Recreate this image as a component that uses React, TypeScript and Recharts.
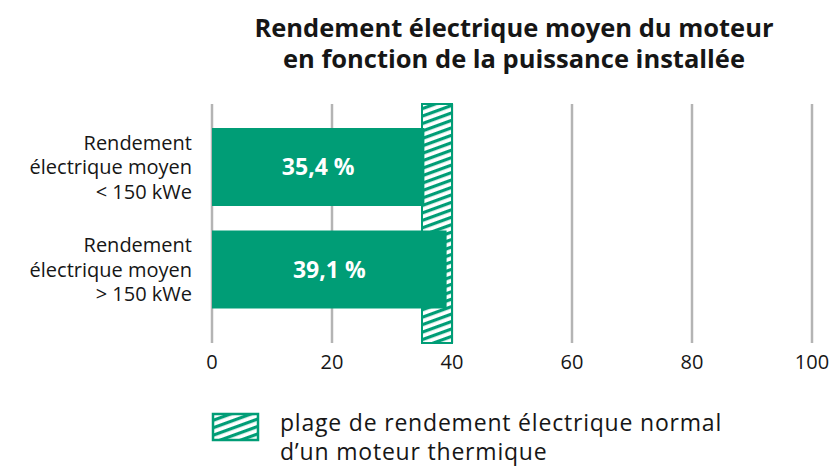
import React from 'react';
import { BarChart, Bar, XAxis, YAxis, CartesianGrid, ReferenceArea, LabelList } from 'recharts';

// categories (y-axis labels, one line per entry)
const categories: string[][] = [
  ['Rendement', 'électrique moyen', '< 150 kWe'],
  ['Rendement', 'électrique moyen', '> 150 kWe'],
];
const rendement: number[] = [35.4, 39.1];
const plageNormale: number[] = [35, 40];
const xTicks: number[] = [0, 20, 40, 60, 80, 100];

const titre = ['Rendement électrique moyen du moteur', 'en fonction de la puissance installée'];
const legende = ['plage de rendement électrique normal', 'd\u2019un moteur thermique'];

const GREEN = '#009d76';
const TEXT = '#161616';
const FONT = '"Open Sans", sans-serif';

// category padding inside the plot (hatched range spans the whole plot height)
const PAD_TOP = 12;
const PAD_BOTTOM = 22;

const data = categories.map((c, i) => ({ name: String(i), value: rendement[i] }));

const CategoryTick = (props: any) => {
  const { x, y, payload } = props;
  const lines = categories[Number(payload.value)] || [];
  const lh = 24.5;
  const start = y - ((lines.length - 1) * lh) / 2;
  return (
    <text x={x} y={start} textAnchor="end" fontSize={20} fontFamily={FONT} fill={TEXT}>
      {lines.map((l, i) => (
        <tspan key={i} x={x} y={start + i * lh + 7}>
          {l}
        </tspan>
      ))}
    </text>
  );
};

const HatchShape = (props: any) => {
  const { x, y, width, height } = props;
  return (
    <rect
      x={x}
      y={y - PAD_TOP}
      width={width}
      height={height + PAD_TOP + PAD_BOTTOM}
      fill="url(#hatch)"
      stroke={GREEN}
      strokeWidth={2}
    />
  );
};

export default function App() {
  return (
    <div style={{ position: 'absolute', left: 0, top: 0, width: 833, height: 466, background: '#fff', fontFamily: FONT }}>
      <svg width={0} height={0} style={{ position: 'absolute' }}>
        <defs>
          <pattern id="hatch" patternUnits="userSpaceOnUse" width={10} height={7} patternTransform="rotate(-20)">
            <rect width={10} height={7} fill="#fff" />
            <rect y={0} width={10} height={3.2} fill={GREEN} />
          </pattern>
        </defs>
      </svg>

      <div
        style={{
          position: 'absolute',
          left: 214,
          top: 12,
          width: 600,
          textAlign: 'center',
          fontWeight: 700,
          fontSize: 25.5,
          lineHeight: '31px',
          color: TEXT,
        }}
      >
        {titre.map((t, i) => (
          <div key={i}>{t}</div>
        ))}
      </div>

      <div style={{ position: 'absolute', left: 0, top: 0 }}>
        <BarChart
          width={833}
          height={400}
          data={data}
          layout="vertical"
          margin={{ top: 104, right: 21, bottom: 0, left: 12 }}
        >
          <CartesianGrid horizontal={false} stroke="#b4b4b4" strokeWidth={2.5} />
          <XAxis
            type="number"
            domain={[0, 100]}
            ticks={xTicks}
            axisLine={false}
            tickLine={false}
            tickMargin={6}
            height={57}
            tick={{ fontSize: 20, fill: TEXT, fontFamily: FONT }}
          />
          <YAxis
            type="category"
            dataKey="name"
            width={200}
            axisLine={false}
            tickLine={false}
            tickMargin={14}
            padding={{ top: PAD_TOP, bottom: PAD_BOTTOM }}
            tick={<CategoryTick />}
          />
          <ReferenceArea
            x1={plageNormale[0]}
            x2={plageNormale[1]}
            fillOpacity={1}
            shape={<HatchShape />}
          />
          <Bar dataKey="value" fill={GREEN} barSize={78} isAnimationActive={false}>
            <LabelList
              dataKey="value"
              position="center"
              formatter={(v: any) => `${String(v).replace('.', ',')} %`}
              fill="#fff"
              fontSize={23}
              fontWeight={700}
              fontFamily={FONT}
            />
          </Bar>
        </BarChart>
      </div>

      <svg width={50} height={30} style={{ position: 'absolute', left: 211, top: 412 }}>
        <rect x={2} y={2} width={45} height={26} fill="url(#hatch)" stroke={GREEN} strokeWidth={2.5} />
      </svg>
      <div
        style={{
          position: 'absolute',
          left: 280,
          top: 408,
          fontSize: 23,
          letterSpacing: 0.8,
          lineHeight: '29px',
          color: TEXT,
        }}
      >
        {legende[0]}
        <br />
        {legende[1]}
      </div>
    </div>
  );
}
